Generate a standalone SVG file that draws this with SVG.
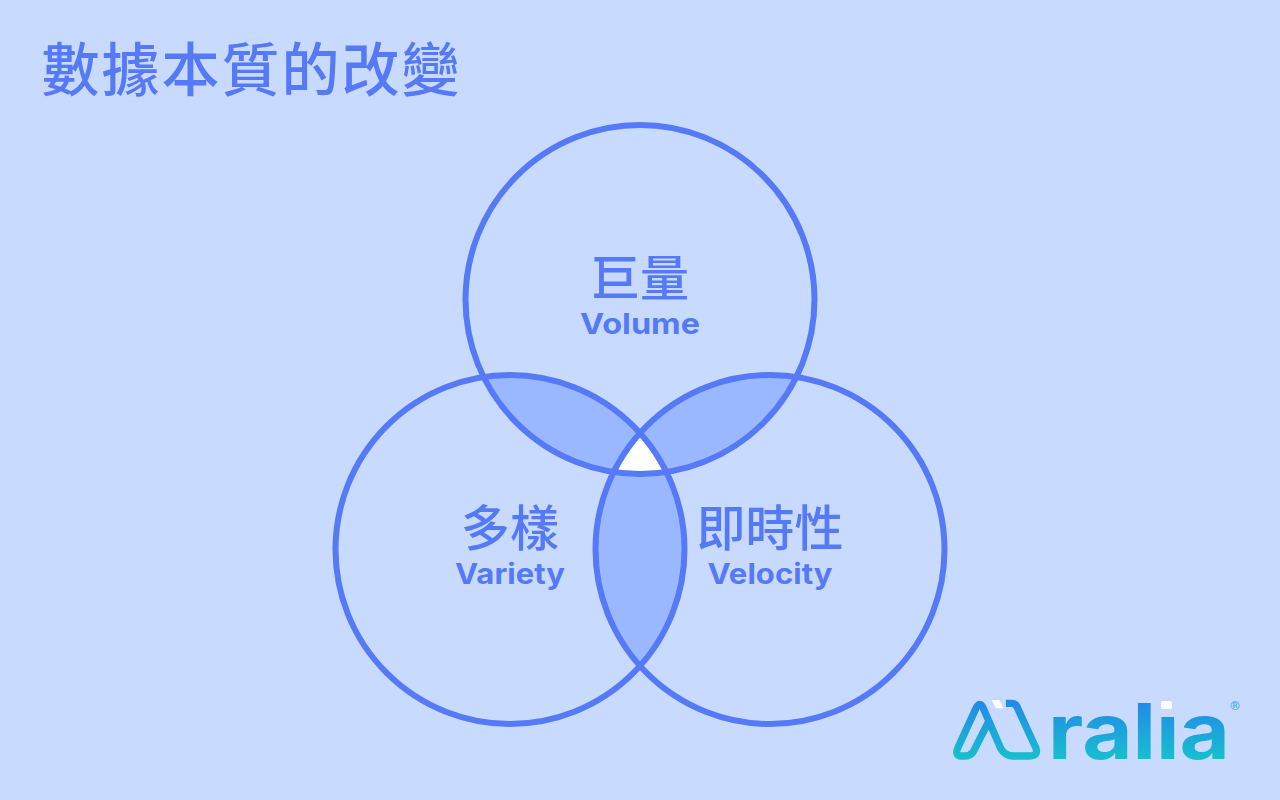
<svg xmlns="http://www.w3.org/2000/svg" width="1280" height="800" viewBox="0 0 1280 800">
<style>
.ring{fill:none;stroke:#5679F8;stroke-width:6}
.lap{fill:#9AB8FF}
.zh{font-family:"Noto Sans CJK TC","Noto Sans",sans-serif;fill:#5679F8;text-anchor:middle;font-weight:500}
.en{font-family:Inter,"Liberation Sans",sans-serif;fill:#5679F8;text-anchor:middle;font-weight:700;font-size:29px}
</style>
<defs>
<clipPath id="cT"><circle cx="640" cy="299.500" r="174.500"/></clipPath>
<clipPath id="cL"><circle cx="510" cy="549.500" r="174.500"/></clipPath>
<clipPath id="cR"><circle cx="770" cy="549.500" r="174.500"/></clipPath>
<linearGradient id="g" gradientUnits="userSpaceOnUse" x1="0" y1="60" x2="0" y2="238"><stop offset="0" stop-color="#2288E8"/><stop offset="1" stop-color="#17BFCF"/></linearGradient>
<linearGradient id="g2" gradientUnits="userSpaceOnUse" x1="0" y1="700" x2="0" y2="760"><stop offset="0" stop-color="#2288E8"/><stop offset="1" stop-color="#17BFCF"/></linearGradient>
</defs>
<rect width="1280" height="800" fill="#C8DBFF"/>
<text id="title" class="zh" x="251.500" y="91" font-size="58" letter-spacing="2">數據本質的改變</text>
<g id="overlaps">
<circle class="lap" cx="640" cy="299.500" r="174.500" clip-path="url(#cL)"/>
<circle class="lap" cx="640" cy="299.500" r="174.500" clip-path="url(#cR)"/>
<circle class="lap" cx="510" cy="549.500" r="174.500" clip-path="url(#cR)"/>
<g clip-path="url(#cT)"><circle cx="510" cy="549.500" r="174.500" fill="#fff" clip-path="url(#cR)"/></g>
</g>
<g id="volume"><circle class="ring" cx="640" cy="299.500" r="174.500"/>
<text class="zh" x="640" y="296" font-size="49">巨量</text><text class="en" x="640" y="334" textLength="120" lengthAdjust="spacingAndGlyphs">Volume</text></g>
<g id="variety"><circle class="ring" cx="510" cy="549.500" r="174.500"/>
<text class="zh" x="510" y="546" font-size="49">多樣</text><text class="en" x="510" y="584" textLength="110" lengthAdjust="spacingAndGlyphs">Variety</text></g>
<g id="velocity"><circle class="ring" cx="770" cy="549.500" r="174.500"/>
<text class="zh" x="770" y="546" font-size="49">即時性</text><text class="en" x="770" y="584" textLength="125" lengthAdjust="spacingAndGlyphs">Velocity</text></g>
<g id="logo">
<g transform="translate(930 680) scale(.33333)">
<path d="M228 70H245Q258 70 263 85L318 205Q325 228 300 228H250Q225 228 212 205L160 85Q150 62 138 85L85 200Q72 228 95 228H105Q120 228 130 215L177 123" fill="none" stroke="url(#g)" stroke-width="22" stroke-linejoin="round"/>
<path d="M185 60H208L220 85H197Z" fill="#fff"/>
</g>
<text x="1048" y="759" font-family="Inter,'Liberation Sans',sans-serif" font-weight="700" font-size="77" fill="url(#g2)" textLength="182" lengthAdjust="spacingAndGlyphs">ralia</text>
<rect x="1157" y="697" width="20" height="17" fill="#C8DBFF"/>
<rect x="1161" y="701" width="11" height="8" rx="2" fill="#fff"/>
<text x="1235" y="709.500" font-family="'DejaVu Sans',sans-serif" font-size="12" fill="#2AA5E5" text-anchor="middle">®</text>
</g>
</svg>
